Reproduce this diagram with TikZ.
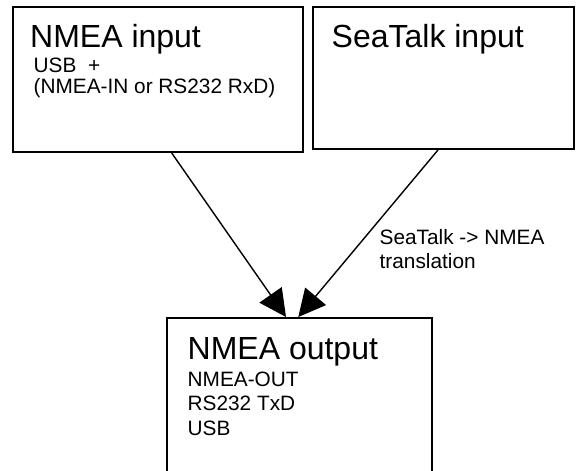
\documentclass[tikz,border=0pt]{standalone}
\usepackage{fontspec}
\setmainfont{Liberation Sans}
\usetikzlibrary{arrows.meta}

\begin{document}
\begin{tikzpicture}[x = 1pt, y = -1pt]
\tikzstyle{BoxStyle}=[draw,
                      line width = 2pt,
                      anchor = north west,
                      inner sep = 0pt]
\tikzstyle{TitleStyle}=[anchor = base west,
                        inner sep = 0pt,
                        font = \fontsize{32}{36}\selectfont]
\tikzstyle{TextStyle}=[anchor = base west,
                       inner sep = 0pt,
                       align = left,
                       font = \fontsize{20.8}{24.5}\selectfont]
\tikzstyle{EdgeStyle}=[line width = 1.4pt,
                       -{Triangle[length = 27pt, width = 27pt]}]
\useasboundingbox (0, 0) rectangle (576, 471);
\clip (0, 0) rectangle (576, 471);
\node[BoxStyle, minimum width = 290pt, minimum height = 145pt] (nin) at (12, 6) {};
\node[BoxStyle, minimum width = 261pt, minimum height = 142pt] (sin) at (312, 6) {};
\node[BoxStyle, minimum width = 265pt, minimum height = 200pt] (nout) at (166, 317) {};
\node[TitleStyle] (ninTitle) at (30, 47) {NMEA input};
\node[TextStyle, font = \fontsize{20.8}{20.5}\selectfont] (ninText) at (33.5, 93) {USB~~+\\(NMEA-IN or RS232 RxD)};
\node[TitleStyle] (sinTitle) at (331.5, 47) {SeaTalk input};
\node[TitleStyle] (noutTitle) at (187.5, 359) {NMEA output};
\node[TextStyle] (noutText) at (187.5, 435) {NMEA-OUT\\RS232 TxD\\USB};
\draw[EdgeStyle] ([xshift = 13.7pt]nin.south) -- ([xshift = -13.5pt]nout.north);
\draw[EdgeStyle] ([xshift = -5.5pt]sin.south) -- ([xshift = -1.2pt]nout.north)
  node[TextStyle, pos = 0.708, xshift = 39.9pt, font = \fontsize{20.8}{23.3}\selectfont] (sinLabel) {SeaTalk -> NMEA\\translation};
\end{tikzpicture}
\end{document}
